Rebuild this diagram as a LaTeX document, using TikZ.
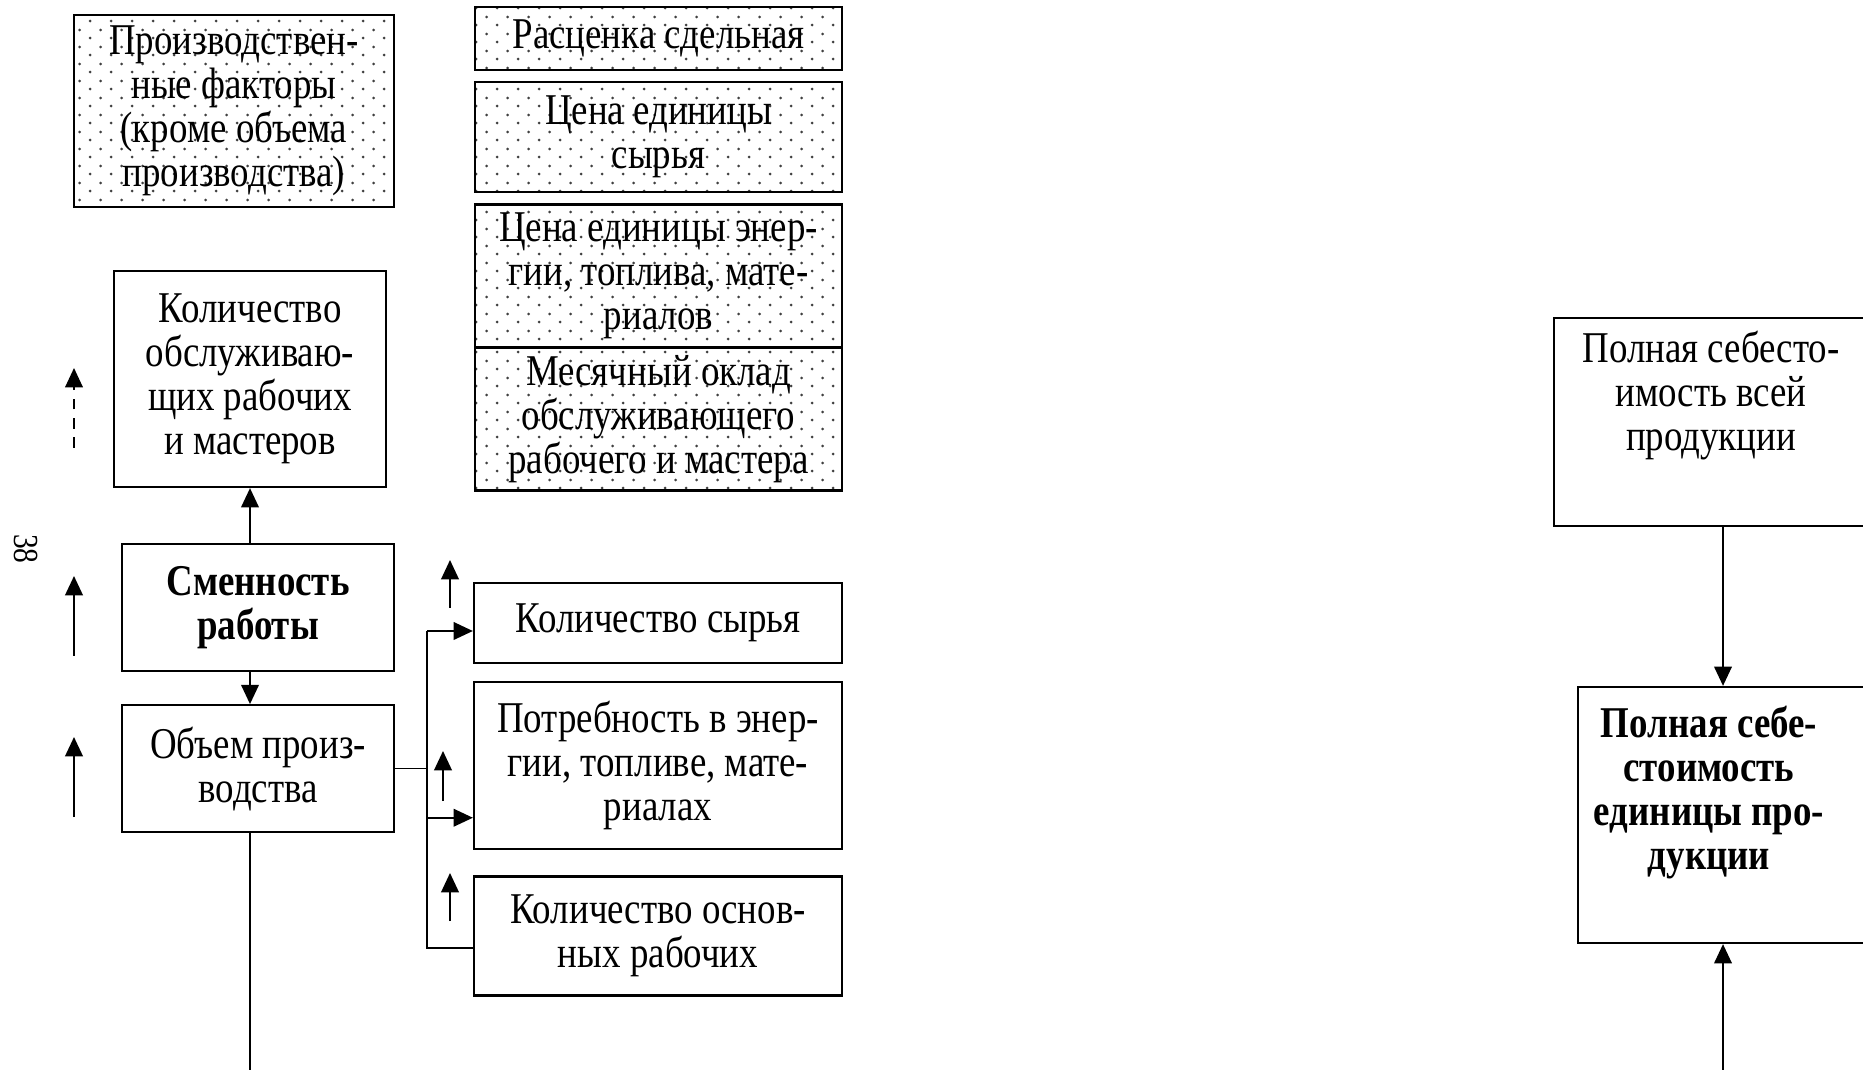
\documentclass[tikz,border=0pt]{standalone}
\usepackage{fontspec}
\setmainfont{Liberation Serif}[FakeStretch=0.84]
\usepackage{tikz}
\usetikzlibrary{positioning,arrows.meta,patterns.meta}
\tikzdeclarepattern{
  name=sparsedots,
  type=uncolored,
  bottom left={(0pt,0pt)},
  top right={(12.2pt,9.4pt)},
  tile size={(12.2pt,9.4pt)},
  code={\fill (3pt,2.3pt) circle (0.85pt) (9.1pt,7pt) circle (0.85pt);}
}
\tikzset{
  txt/.style    = {align=center, font=\fontsize{25}{25}\selectfont},
  box/.style    = {draw, line width=1.3pt, inner sep=2pt, txt},
  dbox/.style   = {box, pattern=sparsedots, pattern color=black!75},
  flow/.style   = {-{Triangle[length=11pt,width=10pt]}, line width=1.2pt},
  branch/.style = {line width=0.8pt},
}

\begin{document}
\begin{tikzpicture}[x=0.02cm, y=-0.02cm]
  \useasboundingbox (0,0) rectangle (1863,1070);
  \clip (0,0) rectangle (1863,1070);

  \node[dbox, minimum width=6.4cm, minimum height=3.84cm] (prod) at (234,111) {Производствен-\\ные факторы\\(кроме объема\\производства)};
  \node[dbox, minimum width=7.34cm, minimum height=1.26cm] (rate) at (658.5,38.5) {Расценка сдельная};
  \node[dbox, below=0.2cm of rate, minimum width=7.34cm, minimum height=2.2cm] (rawprice) {Цена единицы\\сырья};
  \node[dbox, below=0.2cm of rawprice, minimum width=7.34cm, minimum height=2.86cm] (energyprice) {Цена единицы энер-\\гии, топлива, мате-\\риалов};
  \node[dbox, below=-1.3pt of energyprice, minimum width=7.34cm, minimum height=2.86cm] (salary) {Месячный оклад\\обслуживающего\\рабочего и мастера};

  \node[box, minimum width=5.44cm, minimum height=4.32cm] (servcount) at (250,379) {Количество\\обслуживаю-\\щих рабочих\\и мастеров};
  \node[box, minimum width=5.44cm, minimum height=2.54cm, font=\fontsize{25}{25}\selectfont\bfseries] (shift) at (258,607.5) {Сменность\\работы};
  \node[box, below=0.64cm of shift, minimum width=5.44cm, minimum height=2.54cm] (volume) {Объем произ-\\водства};

  \node[box, minimum width=7.36cm, minimum height=1.6cm] (rawqty) at (658,623) {Количество сырья};
  \node[box, below=0.34cm of rawqty, minimum width=7.36cm, minimum height=3.34cm] (energyneed) {Потребность в энер-\\гии, топливе, мате-\\риалах};
  \node[box, below=0.5cm of energyneed, minimum width=7.36cm, minimum height=2.38cm] (maincount) {Количество основ-\\ных рабочих};

  \node[box, minimum width=6.76cm, minimum height=4.16cm,
        label={[txt, anchor=north, yshift=-0.16cm, xshift=-0.24cm]north:{Полная себесто-\\имость всей\\продукции}}] (total) at (1723,422) {};
  \node[box, minimum width=5.8cm, minimum height=5.12cm,
        label={[txt, anchor=north, yshift=-0.28cm, xshift=-0.28cm, font=\fontsize{25}{25}\selectfont\bfseries]north:{Полная себе-\\стоимость\\единицы про-\\дукции}}] (unit) at (1723,815) {};

  \node[rotate=-90, font=\fontsize{20}{20}\selectfont] (page) at (26,549) {38};

  \coordinate[right=0.64cm of volume.east] (split);
  \coordinate (rq) at ([yshift=-0.16cm]rawqty.west);
  \coordinate (en) at ([yshift=-1.04cm]energyneed.west);
  \coordinate (mc) at ([yshift=-0.24cm]maincount.west);
  \coordinate (volend) at (250,1080);
  \coordinate (unitend) at (1723,1080);

  \draw[flow] (servcount.south |- shift.north) -- (servcount.south);
  \draw[flow] (servcount.south |- shift.south) -- (servcount.south |- volume.north);
  \draw[branch, line width=1.1pt] (servcount.south |- volume.south) -- (volend);
  \draw[branch] (volume.east) -- (split);
  \draw[branch] (split |- rq) -- (split |- mc) -- (mc);
  \draw[flow] (split |- rq) -- (rq);
  \draw[flow] (split |- en) -- (en);

  \draw[flow] (total) -- (unit);
  \draw[flow] (unitend) -- (unit.south);

  \coordinate (m1) at (74,448);  \coordinate (m1t) at (74,368);
  \coordinate (m2) at (74,656);  \coordinate (m2t) at (74,576);
  \coordinate (m3) at (74,817);  \coordinate (m3t) at (74,737);
  \coordinate (u1) at (450,608); \coordinate (u1t) at (450,560);
  \coordinate (u2) at (443,801); \coordinate (u2t) at (443,751);
  \coordinate (u3) at (450,921); \coordinate (u3t) at (450,873);
  \draw[flow, line width=1pt, dash pattern=on 6pt off 5pt] (m1) -- (m1t);
  \draw[flow] (m2) -- (m2t);
  \draw[flow] (m3) -- (m3t);
  \draw[flow] (u1) -- (u1t);
  \draw[flow] (u2) -- (u2t);
  \draw[flow] (u3) -- (u3t);
\end{tikzpicture}
\end{document}
